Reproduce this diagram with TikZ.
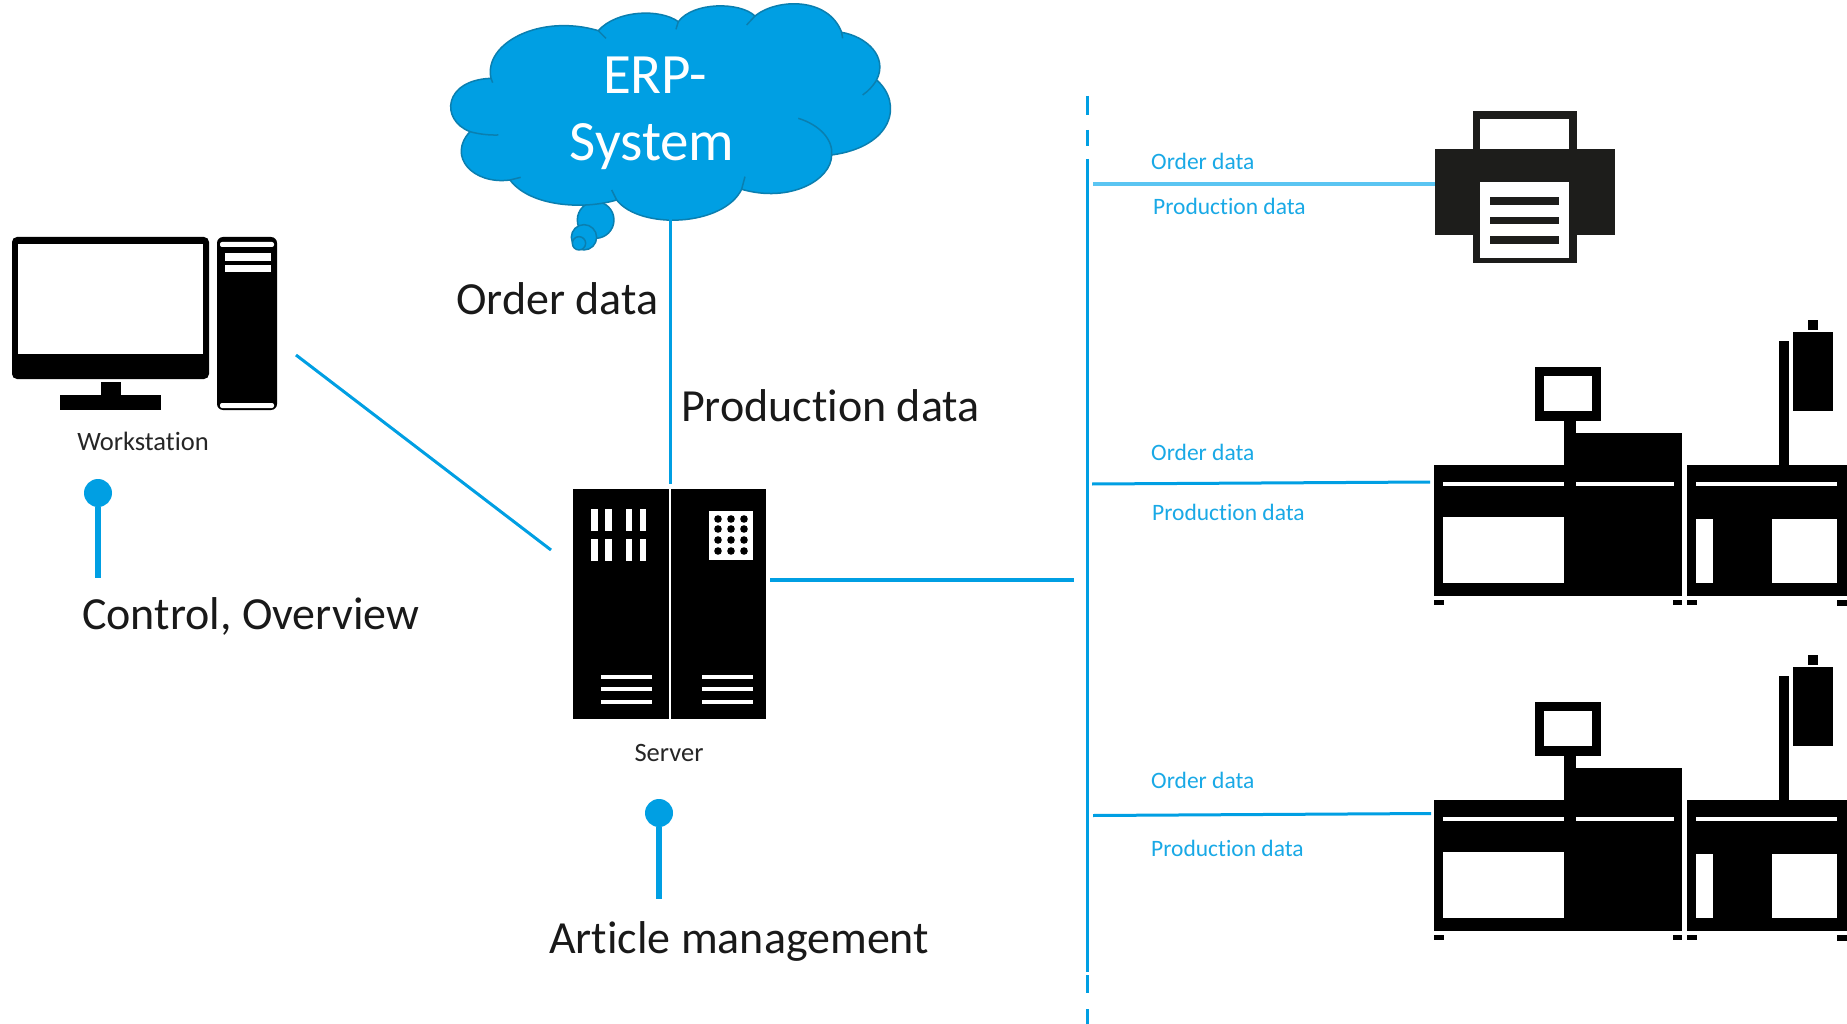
\documentclass[tikz,border=0pt]{standalone}
\usepackage{fontspec}
\setmainfont[Ligatures=NoCommon]{Carlito}
\definecolor{lineblue}{HTML}{009FE3}
\definecolor{lightblue}{HTML}{5BC5F2}
\definecolor{cloudedge}{HTML}{0A7FB0}
\definecolor{printerblack}{HTML}{1D1D1B}
\tikzset{
  x=1pt,y=-1pt,
  link/.style={draw=lineblue,line width=3pt},
  lightlink/.style={draw=lightblue,line width=4pt},
  stem/.style={draw=lineblue,line width=6pt},
  bubble/.style={fill=lineblue,draw=cloudedge,line width=1.5pt},
  bigtext/.style={anchor=west,inner sep=0pt,text=black!90,font=\fontsize{46}{55}\selectfont},
  smalltext/.style={inner sep=0pt,text=black!85,font=\fontsize{26.5}{31}\selectfont},
  bluetext/.style={anchor=west,inner sep=0pt,text=lineblue!90,font=\fontsize{23.5}{28}\selectfont},
  cloudtext/.style={inner sep=0pt,text=white,font=\fontsize{57}{68}\selectfont},
}
\newcommand{\machineicon}[1]{%
  \begin{scope}[shift={(0,#1)}]
    \fill (1434,465) rectangle (1682,596);
    \fill (1576,433) rectangle (1682,465);
    \fill (1564,421) rectangle (1576,465);
    \fill (1535,367) rectangle (1601,421);
    \fill[white] (1544,376) rectangle (1592,411);
    \fill[white] (1443,482) rectangle (1564,486);
    \fill[white] (1576,482) rectangle (1674,486);
    \fill[white] (1443,517) rectangle (1564,583);
    \fill (1434,600) rectangle (1444,605);
    \fill (1673,600) rectangle (1682,605);
    \fill (1687,465) rectangle (1847,596);
    \fill[white] (1696,482) rectangle (1837,486);
    \fill[white] (1696,519) rectangle (1713,583);
    \fill[white] (1772,519) rectangle (1837,583);
    \fill (1779,341) rectangle (1789,465);
    \fill (1793,332) rectangle (1833,411);
    \fill (1808,320) rectangle (1818,330);
    \fill (1687,600) rectangle (1697,605);
    \fill (1837,600) rectangle (1847,606);
  \end{scope}}
\begin{document}
\begin{tikzpicture}
\useasboundingbox (0,0) rectangle (1847,1024);
\fill[white] (0,0) rectangle (1847,1024);

% cloud
\begin{scope}[shift={(430,0)},x=0.3333pt,y=-0.3333pt]
  \draw[bubble] (497,660) circle[radius=55*0.3333pt];
  \draw[bubble] (462,712) circle[radius=38*0.3333pt];
  \draw[bubble] (447,730) circle[radius=20*0.3333pt];
  \draw[bubble,line join=round]
    (183,235) .. controls (160,130) and (330,40) .. (505,92)
    .. controls (560,30) and (690,25) .. (745,65)
    .. controls (790,5) and (930,5) .. (975,48)
    .. controls (1040,-5) and (1195,-10) .. (1235,97)
    .. controls (1310,110) and (1375,170) .. (1340,240)
    .. controls (1420,310) and (1390,440) .. (1205,465)
    .. controls (1205,540) and (1080,610) .. (935,568)
    .. controls (880,680) and (630,690) .. (560,600)
    .. controls (460,630) and (300,620) .. (240,540)
    .. controls (130,555) and (50,470) .. (120,395)
    .. controls (30,360) and (40,240) .. (183,235) -- cycle;
  \begin{scope}[draw=cloudedge,line width=1.5pt]
    \draw (505,92) -- (528,115);
    \draw (745,65) -- (738,88);
    \draw (975,48) -- (950,75);
    \draw (1235,97) -- (1238,115);
    \draw (1340,240) .. controls (1328,260) and (1315,273) .. (1298,285);
    \draw (1205,465) .. controls (1210,420) and (1170,375) .. (1105,355);
    \draw (935,568) -- (945,530);
    \draw (560,600) -- (545,570);
    \draw (240,540) -- (272,532);
    \draw (120,395) .. controls (145,402) and (175,406) .. (205,405);
    \draw (183,235) -- (188,248);
  \end{scope}
\end{scope}
\node[cloudtext] (erp1) at (655,75) {ERP-};
\node[cloudtext] (erp2) at (652,147) {System};

% workstation
\fill[rounded corners=5pt] (12,237) rectangle (209,379);
\fill[white] (18,244) rectangle (203,354);
\fill (101,382) rectangle (121,395);
\fill (60,395) rectangle (161,410);
\fill[rounded corners=6pt] (217,237) rectangle (277,410);
\fill[white,rounded corners=2pt] (220,242) rectangle (274,247);
\fill[white] (225,253) rectangle (271,261);
\fill[white] (225,265) rectangle (271,272);
\fill[white,rounded corners=2pt] (220,403) rectangle (274,408);
\node[smalltext] (workstation) at (143,441) {Workstation};

% server
\fill (573,489) rectangle (669,719);
\fill (671,489) rectangle (766,719);
\foreach \xa/\xb in {591/598,605/612,626/632,640/646}{
  \fill[white] (\xa,509) rectangle (\xb,531);
  \fill[white] (\xa,539) rectangle (\xb,561);
}
\foreach \yy in {677,689,702}{
  \fill[white] (601,\yy-2) rectangle (652,\yy+2);
  \fill[white] (702,\yy-2) rectangle (753,\yy+2);
}
\fill[white] (709,511) rectangle (753,560);
\foreach \xx in {718,731,744}\foreach \yy in {519,529,540,551}{
  \fill (\xx,\yy) circle[radius=3.8pt];
}
\node[smalltext] (server) at (669,753) {Server};

% printer
\fill[printerblack] (1473,111) rectangle (1577,263);
\fill[printerblack] (1435,149) rectangle (1615,235);
\fill[white] (1480,119) rectangle (1569,149);
\fill[white] (1480,182) rectangle (1569,258);
\foreach \ya/\yb in {197/205,217/224,236/244}{
  \fill[printerblack] (1490,\ya) rectangle (1559,\yb);
}

% machines
\machineicon{0}
\machineicon{334.5}

% connector ends
\coordinate (erpEnd) at (670,219);
\coordinate (serverTop) at (670,484);
\coordinate (wsEnd) at (296,355);
\coordinate (serverLeft) at (551,550);
\coordinate (serverRight) at (770,580);
\coordinate (busIn) at (1074,580);
\coordinate (busTop) at (1087,96);
\coordinate (busBottom) at (1087,1024);
\coordinate (printerA) at (1093,184.5);
\coordinate (printerB) at (1435,184.5);
\coordinate (machineOneA) at (1092,484);
\coordinate (machineOneB) at (1430,482);
\coordinate (machineTwoA) at (1093,815.5);
\coordinate (machineTwoB) at (1431,813.5);
\coordinate (stemOneBottom) at (98,578);
\coordinate (stemTwoBottom) at (659,899);

\draw[link] (erpEnd) -- (serverTop);
\draw[link] (wsEnd) -- (serverLeft);
\draw[link,line width=3.6pt] (serverRight) -- (busIn);
\draw[link] (machineOneA) -- (machineOneB);
\draw[link] (machineTwoA) -- (machineTwoB);
\draw[lightlink] (printerA) -- (printerB);
\draw[link] (busTop) -- ++(0,19) ++(0,15) -- ++(0,16) ++(0,13) -- (1087,972) ++(0,3) -- ++(0,18) ++(0,16) -- (busBottom);

% lollipops
\node[circle,fill=lineblue,minimum size=28pt,inner sep=0pt] (dotOne) at (98,493) {};
\node[circle,fill=lineblue,minimum size=28pt,inner sep=0pt] (dotTwo) at (659,813) {};
\draw[stem] (dotOne) -- (stemOneBottom);
\draw[stem] (dotTwo) -- (stemTwoBottom);

% labels
\node[bigtext] (orderBig) at (456,299) {Order data};
\node[bigtext] (productionBig) at (681,406) {Production data};
\node[bigtext] (control) at (82,616) {Control, Overview};
\node[bigtext] (article) at (549,941) {Article management};
\node[bluetext] (orderP) at (1151,161) {Order data};
\node[bluetext] (prodP) at (1153,206.5) {Production data};
\node[bluetext] (orderA) at (1151,452) {Order data};
\node[bluetext] (prodA) at (1152,512.5) {Production data};
\node[bluetext] (orderB) at (1151,780.5) {Order data};
\node[bluetext] (prodB) at (1151,848.5) {Production data};
\end{tikzpicture}
\end{document}
